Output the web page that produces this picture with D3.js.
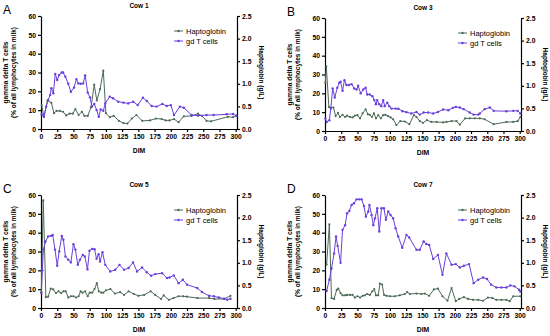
<!DOCTYPE html>
<html>
<head>
<meta charset="utf-8">
<script src="https://cdn.jsdelivr.net/npm/d3@7"></script>
<style>
  body { margin: 0; background: #fff; }
  svg { display: block; font-family: "Liberation Sans", Arial, sans-serif; }
  .axis path, .axis line { stroke: #000; stroke-width: 1.2; }
  .axis text { font-size: 6.8px; font-weight: bold; fill: #000; }
</style>
</head>
<body>
<div id="chart"></div>
<script>
// DIM vs gamma delta T cells (% of lymphocytes), and haptoglobin (g/L)
const cow1Gd = [[1,7.8],[4.5,6.5],[8,11.9],[11,15.4],[14,18],[16,21.6],[19,19],[22,29.2],[25,26],[28,28.7],[32,30],[34,30],[37.5,27.8],[42,24],[46,19.8],[51,22],[54.5,26.5],[57.5,24.2],[61,24],[65,24.2],[68,28.5],[72,19.3],[75.5,16.8],[78.6,11.9],[82,13.3],[85.7,10.1],[89,6.5],[92,10.4],[96,9.7],[99,13.6],[106,17.2],[111,16.3],[119,14.5],[127,14],[134.5,13.6],[142,14.5],[149,12.7],[157,16.6],[163,14.9],[170.5,12.2],[178,11.9],[187,13.3],[193.6,12.2],[200,12.7],[205,7.4],[214,11.9],[220,11.3],[232,7.4],[242,7.1],[255,7.4],[266,7.4],[286,7.8],[296,8],[301,6.9]];
const cow1Hap = [[1,0.53],[4.5,0.27],[10,0.63],[16,0.58],[20,0.35],[24,0.40],[29,0.40],[34,0.38],[39,0.30],[44,0.34],[49,0.34],[53,0.44],[58,0.31],[63,0.38],[67,0.29],[72,0.29],[77,0.48],[82,0.98],[86,0.63],[91,0.88],[96,1.29],[100,0.35],[106,0.26],[112,0.29],[120,0.18],[127,0.13],[133,0.12],[140,0.23],[147,0.31],[156,0.18],[168,0.19],[177,0.23],[186,0.22],[192,0.19],[198,0.19],[205,0.22],[212,0.15],[220,0.28],[232,0.29],[242,0.34],[248,0.29],[255,0.18],[262,0.17],[288,0.27],[296,0.26],[301,0.30]];

const cow3Gd = [[0.5,6.6],[2.6,4.8],[6.7,5.7],[9,12],[11.8,22.6],[15,17.8],[19,23],[22,25.6],[24,26.2],[27,21.4],[30,27],[33,24.4],[37,24.4],[41,24.9],[45,22.6],[48.7,22],[51,24],[55,20],[59,22],[62.6,23],[65,19.4],[69,19.4],[73,18.5],[76,16.4],[78.5,14.2],[80.5,16.4],[83.6,14.2],[86.7,13.2],[89.7,16.4],[92,13.2],[96,15],[99,13.2],[102.6,11.9],[109,11.9],[113,11.8],[119.5,10.5],[125.6,10],[133,9.3],[141,10.1],[146,8.7],[152,9.8],[159,9.8],[166.7,9.3],[174,10.1],[182,11.4],[190,11],[197,12.3],[201.5,12.8],[207.7,12.5],[213.8,11.6],[223,9.8],[229,8.7],[236,8.7],[238.5,9.3],[246,11.6],[254,12.5],[260,10.7],[279.5,10.5],[290,10.7],[297,10.7],[301,9.3]];
const cow3Hap = [[0.5,1.07],[2,1.43],[6,0.53],[13,0.52],[16.4,0.33],[20,0.40],[23,0.31],[27,0.36],[31,0.31],[34,0.34],[38.5,0.31],[42.6,0.30],[46,0.34],[50,0.35],[54,0.28],[58,0.39],[62.6,0.48],[66,0.37],[69,0.36],[72.3,0.31],[75.4,0.39],[78.5,0.28],[82,0.35],[86,0.28],[89.7,0.35],[93,0.36],[97,0.33],[101,0.30],[105,0.26],[110,0.13],[116,0.22],[123,0.21],[130,0.15],[137,0.35],[141,0.31],[146,0.22],[151,0.18],[157,0.24],[164,0.20],[172,0.20],[182,0.19],[187,0.20],[195,0.22],[202.6,0.22],[207.7,0.14],[216,0.28],[223,0.28],[231,0.28],[238.5,0.28],[246,0.26],[260,0.15],[279.5,0.20],[290,0.20],[297,0.22],[301,0.31]];

const cow5Gd = [[0.5,8],[2,20],[3.6,31],[7,35.3],[11,38],[15.5,38.3],[18,38.8],[21.6,31],[25,22.4],[28,30],[32,38.3],[34.5,36.2],[37.6,27.4],[42,25.6],[46,24.2],[50,33.9],[53,31],[56.7,22.9],[60,25.6],[64.4,28.2],[67.5,27.4],[71.6,20.6],[74.7,30.4],[78.9,31.4],[82.5,31.2],[85.6,26.1],[88.7,28.6],[91,24.7],[94.8,29.6],[99,22.9],[106.7,19.4],[114.4,20.3],[121,22.9],[128,20.3],[135,21.2],[141.8,24.2],[148,19.4],[155.7,21.5],[163,19],[169.6,17.1],[176,18],[186.6,18.5],[194,15.9],[198,16.2],[204.6,17.3],[212,13.2],[218.6,15],[225,12.4],[240.7,10.6],[248,8.5],[258.8,6.5],[266.5,6.2],[274,5.6],[282,4.9],[287,4.4],[292,4.9]];
const cow5Hap = [[0.5,0.35],[3.5,2.38],[7.5,0.24],[11,0.25],[15,0.43],[19,0.41],[23,0.33],[27,0.37],[31,0.33],[34.5,0.37],[38,0.37],[42,0.23],[46,0.26],[50,0.26],[54,0.23],[58,0.26],[61,0.37],[64,0.34],[68,0.37],[72,0.26],[75,0.34],[79,0.34],[82.5,0.42],[86,0.55],[89,0.37],[93,0.34],[96,0.34],[100,0.39],[107,0.42],[114,0.32],[122,0.35],[128,0.29],[135,0.37],[143,0.31],[150,0.27],[159,0.29],[169,0.37],[176,0.29],[185,0.20],[189,0.28],[197,0.18],[204,0.22],[212,0.26],[219,0.26],[225,0.25],[241,0.22],[259,0.22],[267,0.20],[282,0.20],[292,0.27]];

const cow7Gd = [[2.5,9],[6.7,15],[10,21],[14,29],[17,38],[19.5,33],[24,24],[27,41.5],[31,44],[34,50.3],[37.4,51.5],[41,54.7],[44.6,55.6],[48.7,57.7],[52.8,57.7],[56.4,57.7],[60,54.2],[63,48.5],[66.7,51.2],[68.5,54.7],[71.8,49.4],[74.4,44],[77,47.6],[80.5,53],[83.6,40.6],[87,53],[90.8,53],[93.8,46.8],[97.4,51.2],[101,49.4],[105,47.6],[108.7,42.4],[112.8,38],[119,32],[125.6,38.8],[129.7,37.4],[141,30.9],[146,30.9],[152,35.3],[156,34],[160.5,33.5],[166.7,26],[174,28.2],[181,17.6],[187,29],[195,23],[201.5,23.3],[207.7,21.5],[214,22.4],[222,23.3],[229,13.2],[236,15],[243.6,16.2],[249.7,15.4],[256,12.4],[264,10.9],[271.8,10.9],[279.5,10.9],[285.6,12],[292,11.5],[299,9.7],[301,8.8]];
const cow7Hap = [[2.5,0.96],[6.7,1.85],[10,0.22],[14,0.20],[18,0.40],[20.5,0.43],[24,0.33],[27,0.28],[31,0.28],[34,0.29],[38.5,0.29],[42.5,0.29],[46,0.23],[50,0.26],[54,0.23],[58,0.27],[61.5,0.28],[65,0.31],[69,0.29],[73,0.37],[76,0.42],[78.5,0.28],[82,0.28],[84.6,0.54],[88,0.52],[91,0.29],[95,0.27],[100,0.26],[107.7,0.26],[115.4,0.28],[123,0.31],[126.6,0.35],[130.8,0.31],[141,0.32],[148.7,0.31],[153.8,0.32],[160.5,0.27],[167.7,0.41],[174,0.43],[181,0.26],[188.7,0.16],[195,0.44],[201.5,0.15],[206.7,0.20],[214,0.24],[220.5,0.20],[228,0.18],[236,0.18],[243.6,0.16],[251,0.23],[258,0.22],[264,0.18],[272,0.18],[279.5,0.18],[284.6,0.15],[290,0.26],[301,0.26]];

const xTicks = d3.range(0, 301, 25);
const leftTicks = [0, 10, 20, 30, 40, 50, 60];
const rightTicks = [0, 0.5, 1.0, 1.5, 2.0, 2.5];
const seriesNames = ["Haptoglobin", "gd T cells"];

const hapColor = "#4d6a57";
const gdColor = "#6a3fdc";

const width = 550, height = 336,
    pw = 196, ph = 113;

const panels = [
  {letter: "A", title: "Cow 1", gd: cow1Gd, hap: cow1Hap, left: 41, top: 16},
  {letter: "B", title: "Cow 3", gd: cow3Gd, hap: cow3Hap, left: 325, top: 18},
  {letter: "C", title: "Cow 5", gd: cow5Gd, hap: cow5Hap, left: 41, top: 195},
  {letter: "D", title: "Cow 7", gd: cow7Gd, hap: cow7Hap, left: 325, top: 195},
];

const svg = d3.select("#chart").append("svg")
    .attr("width", width)
    .attr("height", height);

const x = d3.scaleLinear().domain([0, 302]).range([0, pw]);
const yL = d3.scaleLinear().domain([0, 60]).range([ph, 0]);
const yR = d3.scaleLinear().domain([0, 2.5]).range([ph, 0]);

panels.forEach(function(p) {
  const g = svg.append("g")
      .attr("transform", "translate(" + p.left + "," + p.top + ")");

  g.append("g")
      .attr("class", "axis")
      .attr("transform", "translate(0," + ph + ")")
      .call(d3.axisBottom(x).tickValues(xTicks).tickSize(3).tickPadding(2).tickSizeOuter(0));

  g.append("g")
      .attr("class", "axis")
      .call(d3.axisLeft(yL).tickValues(leftTicks).tickSize(3).tickPadding(2).tickSizeOuter(0));

  g.append("g")
      .attr("class", "axis")
      .attr("transform", "translate(" + pw + ",0)")
      .call(d3.axisRight(yR).tickValues(rightTicks).tickSize(3).tickPadding(2).tickSizeOuter(0)
        .tickFormat(d3.format(".1f")));

  // panel letter + title
  svg.append("text")
      .attr("x", p.left - 38)
      .attr("y", p.top - 2)
      .style("font-size", "12px")
      .text(p.letter);

  g.append("text")
      .attr("x", pw / 2)
      .attr("y", -8)
      .attr("text-anchor", "middle")
      .style("font-size", "6.5px")
      .style("font-weight", "bold")
      .text(p.title);

  g.append("text")
      .attr("x", pw / 2)
      .attr("y", ph + 24)
      .attr("text-anchor", "middle")
      .style("font-size", "6.8px")
      .style("font-weight", "bold")
      .text("DIM");

  const yl = g.append("text")
      .attr("transform", "translate(-27," + (ph / 2) + ") rotate(-90)")
      .attr("text-anchor", "middle")
      .style("font-size", "6.5px")
      .style("font-weight", "bold");
  yl.append("tspan").attr("x", 0).attr("dy", "-0.9em").text("gamma delta T cells");
  yl.append("tspan").attr("x", 0).attr("dy", "1.15em").text("(% of all lymphocytes in milk)");

  g.append("text")
      .attr("transform", "translate(" + (pw + 22) + "," + (ph / 2) + ") rotate(90)")
      .attr("text-anchor", "middle")
      .style("font-size", "6.5px")
      .style("font-weight", "bold")
      .text("Haptoglobin (g/L)");

  const lineL = d3.line().x(d => x(d[0])).y(d => yL(d[1]));
  const lineR = d3.line().x(d => x(d[0])).y(d => yR(d[1]));

  g.append("path")
      .datum(p.hap)
      .attr("fill", "none")
      .attr("stroke", hapColor)
      .attr("stroke-width", 1)
      .attr("d", lineR);
  g.selectAll(".hdot")
      .data(p.hap)
    .enter().append("circle")
      .attr("cx", d => x(d[0]))
      .attr("cy", d => yR(d[1]))
      .attr("r", 1.1)
      .attr("fill", hapColor);

  g.append("path")
      .datum(p.gd)
      .attr("fill", "none")
      .attr("stroke", gdColor)
      .attr("stroke-width", 1)
      .attr("d", lineL);
  g.selectAll(".gdot")
      .data(p.gd)
    .enter().append("circle")
      .attr("cx", d => x(d[0]))
      .attr("cy", d => yL(d[1]))
      .attr("r", 1.2)
      .attr("fill", gdColor);

  // legend
  const lg = g.append("g").attr("transform", "translate(133,15)");
  [hapColor, gdColor].forEach(function(c, i) {
    const row = lg.append("g").attr("transform", "translate(0," + (i * 10) + ")");
    row.append("line").attr("x1", 0).attr("x2", 9).attr("stroke", c).attr("stroke-width", 1);
    row.append("circle").attr("cx", 4.5).attr("r", 1.2).attr("fill", c);
    row.append("text")
        .attr("x", 12)
        .attr("dy", "0.35em")
        .style("font-size", "7.5px")
        .text(seriesNames[i]);
  });
});
</script>
</body>
</html>
